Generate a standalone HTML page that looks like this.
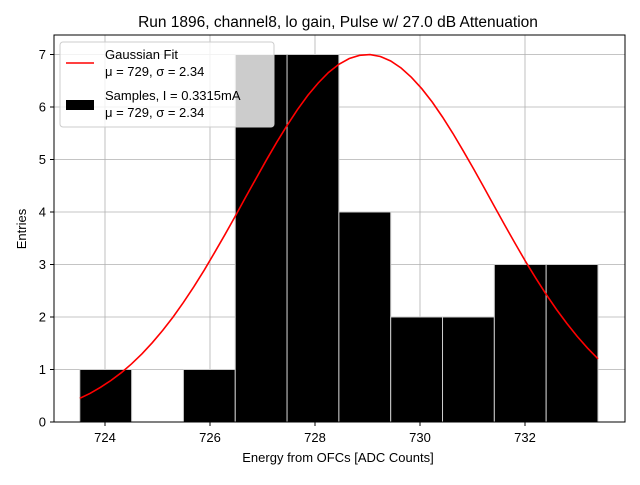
<!DOCTYPE html>
<html><head><meta charset="utf-8"><style>
body{margin:0;background:#fff;}
svg{font-family:"Liberation Sans","DejaVu Sans",sans-serif;}
</style></head><body>
<svg id="chart" width="640" height="480" viewBox="0 0 640 480">
<rect width="640" height="480" fill="#fff"/>
<text x="338" y="27" font-size="15.5" text-anchor="middle">Run 1896, channel8, lo gain, Pulse w/ 27.0 dB Attenuation</text>
<g id="grid"></g>
<g id="bars"></g>
<g id="fit"></g>
<rect x="54" y="35" width="571" height="387" fill="none" stroke="#000" stroke-width="1"/>
<g id="axes"></g>
<text x="338" y="462" font-size="13" text-anchor="middle">Energy from OFCs [ADC Counts]</text>
<text x="26" y="229" font-size="13" text-anchor="middle" transform="rotate(-90 26 229)">Entries</text>
<g>
<rect x="60" y="42" width="214" height="85" rx="3" fill="#fff" fill-opacity="0.8" stroke="#ccc"/>
<line x1="66" y1="63" x2="94" y2="63" stroke="red" stroke-width="1.5"/>
<text x="105" y="59" font-size="13">Gaussian Fit</text>
<text x="105" y="76" font-size="13">μ = 729, σ = 2.34</text>
<rect x="66" y="100" width="28" height="10" fill="#000"/>
<text x="105" y="100" font-size="13">Samples, I = 0.3315mA</text>
<text x="105" y="117" font-size="13">μ = 729, σ = 2.34</text>
</g>
</svg>
<script>
const binEdgeStart = [723.52];
const binWidth = [0.987];
const counts = [1,0,1,7,7,4,2,2,3,3];
const xTicks = [724,726,728,730,732];
const yTicks = [0,1,2,3,4,5,6,7];
const fitParams = [7, 729, 2.34]; // amplitude, mu, sigma

const NS="http://www.w3.org/2000/svg";
const X=v=>105+(v-724)*52.5;
const Y=v=>422-v*52.5;
function mk(t,a,p){const e=document.createElementNS(NS,t);for(const k in a)e.setAttribute(k,a[k]);p.appendChild(e);return e;}
const grid=document.getElementById('grid'),axes=document.getElementById('axes'),bars=document.getElementById('bars'),fit=document.getElementById('fit');
xTicks.forEach(v=>{
 const g=mk('line',{x1:X(v),x2:X(v),y1:35,y2:422,stroke:'#b0b0b0','stroke-width':0.8},grid);
 
 
 mk('line',{x1:X(v),x2:X(v),y1:422,y2:426,stroke:'#000'},axes);
 const t=mk('text',{x:X(v),y:442,'font-size':13,'text-anchor':'middle'},axes);t.textContent=v;
 
 
});
yTicks.forEach(v=>{
 const g=mk('line',{x1:54,x2:625,y1:Y(v),y2:Y(v),stroke:'#b0b0b0','stroke-width':0.8},grid);
 
 
 mk('line',{x1:50,x2:54,y1:Y(v),y2:Y(v),stroke:'#000'},axes);
 const t=mk('text',{x:46,y:Y(v)+4.5,'font-size':13,'text-anchor':'end'},axes);t.textContent=v;
 
 
});
counts.forEach((c,i)=>{
 if(!c)return;
 const x0=binEdgeStart[0]+i*binWidth[0],x1=x0+binWidth[0];
 const r=mk('rect',{x:X(x0),y:Y(c),width:X(x1)-X(x0),height:Y(0)-Y(c),fill:'#000',stroke:'#ccc','stroke-width':1},bars);
 
 
});
const lo=binEdgeStart[0],hi=binEdgeStart[0]+counts.length*binWidth[0];
let pts=[];
for(let i=0;i<=50;i++){const v=lo+(hi-lo)*i/50;const y=fitParams[0]*Math.exp(-Math.pow(v-fitParams[1],2)/(2*fitParams[2]*fitParams[2]));pts.push(X(v).toFixed(1)+','+Y(y).toFixed(1));}
const pl=mk('polyline',{points:pts.join(' '),fill:'none',stroke:'red','stroke-width':1.6},fit);


</script>
</body></html>
